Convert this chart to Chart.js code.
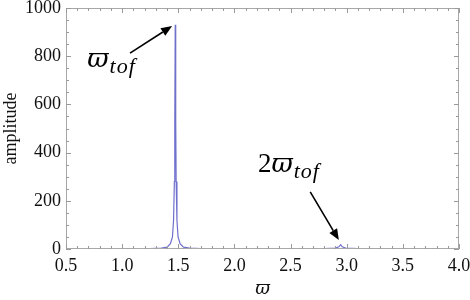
<!DOCTYPE html>
<html>
<head>
<meta charset="utf-8">
<script src="https://cdn.jsdelivr.net/npm/chart.js@4/dist/chart.umd.min.js"></script>
<style>
  html, body { margin: 0; padding: 0; background: #fff; }
  #wrap { width: 470px; height: 300px; position: relative; }
</style>
</head>
<body>
<div id="wrap"><canvas id="c" width="470" height="300"></canvas></div>
<script>
// ---- data ----
const omega = [0.5, 0.8, 1.1, 1.25, 1.35, 1.40, 1.43, 1.448, 1.458, 1.465, 1.469, 1.473, 1.477, 1.481, 1.488, 1.498, 1.516, 1.546, 1.6, 1.7, 2.0, 2.5, 2.8, 2.9, 2.93, 2.946, 2.96, 2.99, 3.1, 3.5, 4.0];
const amplitude = [1, 1, 1.5, 2, 4, 8, 22, 50, 120, 280, 540, 930, 540, 280, 120, 50, 22, 8, 4, 2, 1.5, 1.5, 2, 4, 9, 18, 9, 4, 2, 1, 1];
const xTickLabels = ['0.5', '1.0', '1.5', '2.0', '2.5', '3.0', '3.5', '4.0'];
const yTickLabels = ['0', '200', '400', '600', '800', '1000'];
const xTitle = 'ϖ';
const yTitle = 'amplitude';
// annotations: main symbol, subscript, text anchor and arrow (tail -> head) in data units
const annPrefix = ['', '2'];
const annSymbol = ['ϖ', 'ϖ'];
const annSub = ['tof', 'tof'];
const annTextX = [0.69, 2.21];
const annTextY = [755, 318];
const annTailX = [1.07, 2.675];
const annTailY = [813, 237];
const annHeadX = [1.445, 2.93];
const annHeadY = [925, 37];

const points = omega.map((v, i) => ({ x: v, y: amplitude[i] }));
const serif = '"Liberation Serif", "Times New Roman", serif';
const mathFont = '"DejaVu Serif", "Liberation Serif", serif';

const framePlugin = {
  id: 'frame',
  afterDraw(chart) {
    const { ctx, chartArea: a, scales: { x, y } } = chart;
    ctx.save();
    // frame
    ctx.strokeStyle = '#a8a8a8';
    ctx.lineWidth = 1;
    ctx.strokeRect(Math.round(a.left) + 0.5, Math.round(a.top) + 0.5,
                   Math.round(a.right - a.left) - 1, Math.round(a.bottom - a.top) - 1);
    // ticks
    ctx.strokeStyle = '#9a9a9a';
    ctx.beginPath();
    const xMajor = xTickLabels.map(Number);
    for (let v = Math.round(x.min * 10); v <= Math.round(x.max * 10); v++) {
      const val = v / 10;
      const major = xMajor.some(m => Math.abs(m - val) < 1e-6);
      const len = major ? 5 : 3;
      const px = Math.round(x.getPixelForValue(val)) + 0.5;
      ctx.moveTo(px, a.bottom); ctx.lineTo(px, a.bottom - len);
      ctx.moveTo(px, a.top); ctx.lineTo(px, a.top + len);
    }
    const yMajor = yTickLabels.map(Number);
    for (let v = y.min; v <= y.max; v += 50) {
      const major = yMajor.includes(v);
      const len = major ? 5 : 3;
      const py = Math.round(y.getPixelForValue(v)) + 0.5;
      ctx.moveTo(a.left, py); ctx.lineTo(a.left + len, py);
      ctx.moveTo(a.right, py); ctx.lineTo(a.right - len, py);
    }
    ctx.stroke();

    // annotations
    ctx.fillStyle = '#000';
    ctx.strokeStyle = '#000';
    for (let i = 0; i < annSymbol.length; i++) {
      let tx = x.getPixelForValue(annTextX[i]);
      const ty = y.getPixelForValue(annTextY[i]);
      ctx.textBaseline = 'alphabetic';
      ctx.textAlign = 'left';
      if (annPrefix[i]) {
        ctx.font = '27px ' + serif;
        ctx.fillText(annPrefix[i], tx, ty);
        tx += ctx.measureText(annPrefix[i]).width;
      }
      ctx.font = 'italic 26px ' + mathFont;
      ctx.fillText(annSymbol[i], tx, ty);
      tx += ctx.measureText(annSymbol[i]).width;
      ctx.font = 'italic 22px ' + serif;
      if ('letterSpacing' in ctx) ctx.letterSpacing = '1px';
      ctx.fillText(annSub[i], tx + 1, ty + 6);
      if ('letterSpacing' in ctx) ctx.letterSpacing = '0px';

      const x0 = x.getPixelForValue(annTailX[i]), y0 = y.getPixelForValue(annTailY[i]);
      const x1 = x.getPixelForValue(annHeadX[i]), y1 = y.getPixelForValue(annHeadY[i]);
      const ang = Math.atan2(y1 - y0, x1 - x0);
      const hl = 11, hw = 4.5;
      const bx = x1 - hl * Math.cos(ang), by = y1 - hl * Math.sin(ang);
      ctx.lineWidth = 1.6;
      ctx.beginPath(); ctx.moveTo(x0, y0); ctx.lineTo(bx, by); ctx.stroke();
      ctx.beginPath();
      ctx.moveTo(x1, y1);
      ctx.lineTo(bx + hw * Math.sin(ang), by - hw * Math.cos(ang));
      ctx.lineTo(bx - hw * Math.sin(ang), by + hw * Math.cos(ang));
      ctx.closePath(); ctx.fill();
    }
    ctx.restore();
  }
};

new Chart(document.getElementById('c'), {
  type: 'line',
  data: {
    datasets: [{
      data: points,
      borderColor: '#6f6fcc',
      borderWidth: 1.2,
      pointRadius: 0,
      tension: 0,
      fill: false
    }]
  },
  options: {
    responsive: false,
    animation: false,
    parsing: false,
    layout: { padding: { top: 8, right: 11, left: 0, bottom: 0 } },
    plugins: { legend: { display: false }, tooltip: { enabled: false } },
    scales: {
      x: {
        type: 'linear', min: 0.5, max: 4.0,
        grid: { display: false, drawTicks: false },
        border: { display: false },
        afterBuildTicks(s) { s.ticks = xTickLabels.map(v => ({ value: Number(v) })); },
        afterFit(s) { s.height = 51; s.paddingLeft = 0; s.paddingRight = 0; },
        ticks: {
          padding: 6, color: '#111', maxRotation: 0, autoSkip: false,
          font: { family: serif, size: 18 },
          callback: (v) => xTickLabels.find(l => Math.abs(Number(l) - v) < 1e-6)
        },
        title: {
          display: true, text: xTitle, color: '#111', padding: { top: 2, bottom: 0 },
          font: { family: mathFont, size: 18, style: 'italic' }
        }
      },
      y: {
        type: 'linear', min: 0, max: 1000,
        grid: { display: false, drawTicks: false },
        border: { display: false },
        afterBuildTicks(s) { s.ticks = yTickLabels.map(v => ({ value: Number(v) })); },
        afterFit(s) { s.width = 66; s.paddingTop = 0; s.paddingBottom = 0; },
        ticks: {
          padding: 5, color: '#111', autoSkip: false,
          font: { family: serif, size: 18 },
          callback: (v) => String(v)
        },
        title: {
          display: true, text: yTitle, color: '#111', padding: { top: 0, bottom: 4 },
          font: { family: serif, size: 18 }
        }
      }
    }
  },
  plugins: [framePlugin]
});
</script>
</body>
</html>
